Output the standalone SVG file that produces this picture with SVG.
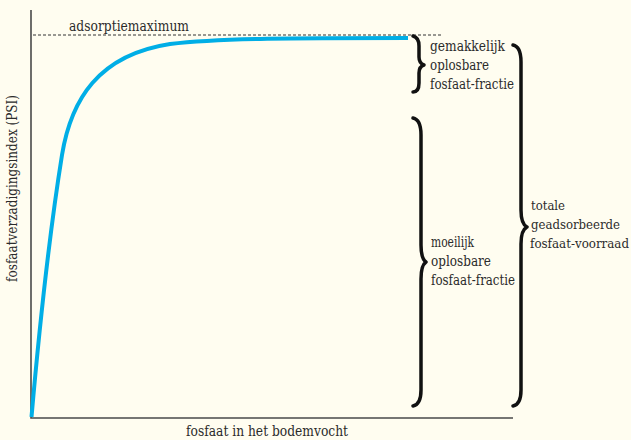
<svg xmlns="http://www.w3.org/2000/svg" width="631" height="440" viewBox="0 0 631 440">
  <style>
    text { font-family: "DejaVu Serif", "Liberation Serif", "Noto Serif", serif; font-size: 14px; fill: #2b2b2b; }
    #label-total text { font-size: 12px; }
    .axis { stroke: #4a4a4a; stroke-width: 1.6; fill: none; }
    .brace { stroke: #111; stroke-width: 3.5; fill: none; stroke-linecap: round; stroke-linejoin: round; }
  </style>
  <rect width="631" height="440" fill="#fffdf0"/>
  <g id="axes">
    <path class="axis" d="M31,10 V418 H513"/>
    <text x="186" y="436" textLength="162" lengthAdjust="spacingAndGlyphs">fosfaat in het bodemvocht</text>
    <text transform="translate(17,282) rotate(-90)" textLength="187" lengthAdjust="spacingAndGlyphs">fosfaatverzadigingsindex (PSI)</text>
  </g>
  <g id="maximum">
    <line x1="33" y1="35" x2="442" y2="35" stroke="#333" stroke-width="1" stroke-dasharray="3,2"/>
    <text x="69" y="31" textLength="120" lengthAdjust="spacingAndGlyphs">adsorptiemaximum</text>
  </g>
  <g id="curve">
    <path d="M31.5,417 C40,320 50,230 62,155 C71,100 98,55 170,44 C220,38 300,38 408,38" fill="none" stroke="#00aee6" stroke-width="4"/>
  </g>
  <g id="connectors">
    <path id="brace-easy" class="brace" d="M413,36 C417,37 419,40 419,46 L419,57 C419,62 421,64 424,65 C421,66 419,68 419,73 L419,83 C419,89 417,92 413,92"/>
    <path id="brace-hard" class="brace" d="M413,118 C418,119 421,124 421,135 L421,245 C421,255 423,260 426,262 C423,264 421,269 421,279 L421,390 C421,400 418,405 413,406"/>
    <path id="brace-total" class="brace" d="M513,45 C518,46 521,51 521,62 L521,210 C521,220 523,225 527,227 C523,229 521,234 521,244 L521,390 C521,400 518,405 513,406"/>
  </g>
  <g id="label-easy">
    <text x="430" y="51" textLength="75" lengthAdjust="spacingAndGlyphs">gemakkelijk</text>
    <text x="430" y="70" textLength="59" lengthAdjust="spacingAndGlyphs">oplosbare</text>
    <text x="430" y="89" textLength="84" lengthAdjust="spacingAndGlyphs">fosfaat-fractie</text>
  </g>
  <g id="label-hard">
    <text x="431" y="247" textLength="43" lengthAdjust="spacingAndGlyphs">moeilijk</text>
    <text x="431" y="266" textLength="60" lengthAdjust="spacingAndGlyphs">oplosbare</text>
    <text x="431" y="285" textLength="84" lengthAdjust="spacingAndGlyphs">fosfaat-fractie</text>
  </g>
  <g id="label-total">
    <text x="531" y="210" textLength="34" lengthAdjust="spacingAndGlyphs">totale</text>
    <text x="531" y="229" textLength="89" lengthAdjust="spacingAndGlyphs">geadsorbeerde</text>
    <text x="530" y="248" textLength="99" lengthAdjust="spacingAndGlyphs">fosfaat-voorraad</text>
  </g>
</svg>
